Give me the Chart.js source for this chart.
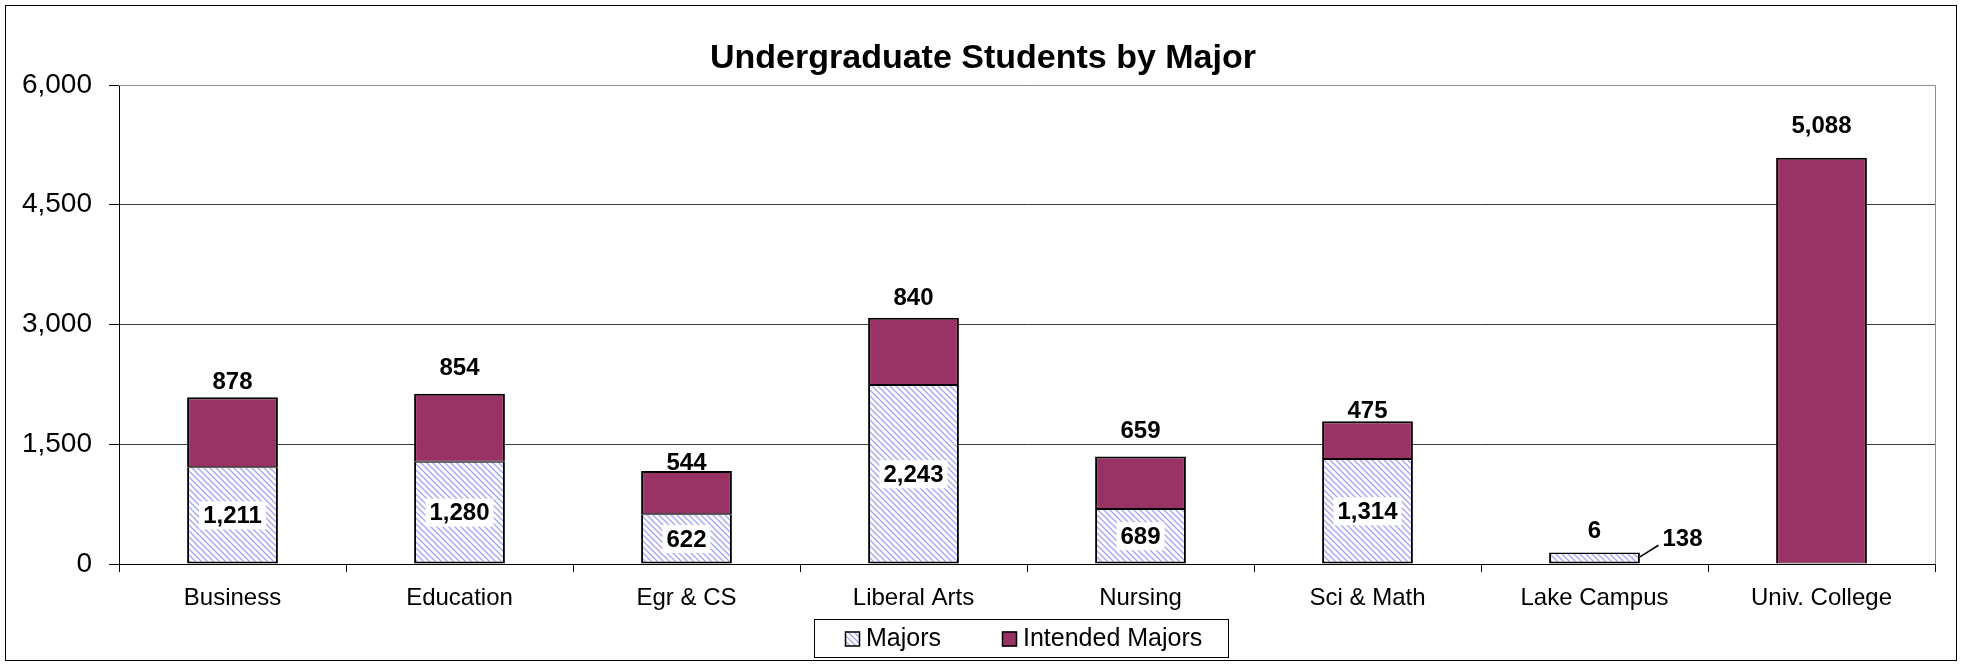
<!DOCTYPE html>
<html>
<head>
<meta charset="utf-8">
<script src="https://cdn.jsdelivr.net/npm/chart.js@4/dist/chart.umd.min.js"></script>
<style>
html,body{margin:0;padding:0;background:#fff;}
#wrap{width:1967px;height:666px;position:relative;}
</style>
</head>
<body>
<div id="wrap"><canvas id="c" width="1967" height="666"></canvas></div>
<script>
const categories = ["Business","Education","Egr & CS","Liberal Arts","Nursing","Sci & Math","Lake Campus","Univ. College"];
const majors = [1211,1280,622,2243,689,1314,138,0];
const intendedMajors = [878,854,544,840,659,475,6,5088];
const yTicks = [0,1500,3000,4500,6000];
const chartTitle = "Undergraduate Students by Major";
const seriesNames = ["Majors","Intended Majors"];

// label styling (distance of top labels above bar top, in px)
const topLabelLift = [16,26,9,20,26,11,22,32];
// shifted label with leader line (Lake Campus majors)
const majorsLabelShift = [null,null,null,null,null,null,{dx:88,dy:-20},null];

const FONT = "'Liberation Sans', Arial, sans-serif";
const PLUM = '#993366';

function makePattern(){
  const p = document.createElement('canvas');
  p.width = 6; p.height = 6;
  const g = p.getContext('2d');
  g.fillStyle = '#ffffff';
  g.fillRect(0,0,6,6);
  g.strokeStyle = '#a3a3f5';
  g.lineWidth = 1.3;
  g.beginPath();
  g.moveTo(-1,-1); g.lineTo(7,7);
  g.moveTo(-1,5); g.lineTo(1,7);
  g.moveTo(5,-1); g.lineTo(7,1);
  g.stroke();
  return document.getElementById('c').getContext('2d').createPattern(p,'repeat');
}
const hatch = makePattern();

const fmt = v => v.toLocaleString('en-US');

const decor = {
  id:'decor',
  beforeDraw(chart){
    const ctx = chart.ctx;
    ctx.save();
    ctx.fillStyle = '#fff';
    ctx.fillRect(0,0,chart.width,chart.height);
    ctx.restore();
  },
  afterDraw(chart){
    const ctx = chart.ctx;
    const a = chart.chartArea;
    ctx.save();
    // plot area border (top & right)
    ctx.strokeStyle = '#8c8c8c';
    ctx.lineWidth = 1;
    ctx.beginPath();
    ctx.moveTo(a.left, a.top + 0.5);
    ctx.lineTo(a.right + 0.5, a.top + 0.5);
    ctx.lineTo(a.right + 0.5, a.bottom);
    ctx.stroke();
    // outer frame
    ctx.strokeStyle = '#000';
    ctx.strokeRect(5.5,5.5,1951,655);
    // title
    ctx.fillStyle = '#000';
    ctx.font = 'bold 34px ' + FONT;
    ctx.textAlign = 'center';
    ctx.textBaseline = 'middle';
    ctx.fillText(chartTitle, 983, 59);
    // legend
    const lx = 814, ly = 619, lw = 414, lh = 38;
    ctx.strokeStyle = '#000';
    ctx.lineWidth = 1;
    ctx.strokeRect(lx+0.5, ly+0.5, lw, lh);
    const items = [
      {x:845, fill:hatch, text:seriesNames[0]},
      {x:1002, fill:PLUM, text:seriesNames[1]}
    ];
    ctx.font = '25px ' + FONT;
    ctx.textAlign = 'left';
    ctx.textBaseline = 'middle';
    const cy = ly + lh/2 + 0.5;
    items.forEach(it=>{
      ctx.fillStyle = it.fill;
      ctx.fillRect(it.x, cy-7, 15, 15);
      ctx.strokeStyle = '#000';
      ctx.lineWidth = 1.5;
      ctx.strokeRect(it.x+0.5, cy-6.5, 14, 14);
      ctx.fillStyle = '#000';
      ctx.fillText(it.text, it.x + 21, cy + 1);
    });
    ctx.restore();
  },
  afterDatasetsDraw(chart){
    const ctx = chart.ctx;
    ctx.save();
    ctx.font = 'bold 24px ' + FONT;
    ctx.textAlign = 'center';
    ctx.textBaseline = 'middle';
    // majors labels
    const m0 = chart.getDatasetMeta(0);
    m0.data.forEach((el,i)=>{
      const v = majors[i];
      if(!v) return;
      let x = el.x, y = (el.y + el.base)/2;
      const sh = majorsLabelShift[i];
      if(sh){
        const bx = el.x + el.width/2, by = el.y;
        x += sh.dx; y += sh.dy;
        ctx.strokeStyle = '#000';
        ctx.lineWidth = 1.5;
        ctx.beginPath();
        ctx.moveTo(bx, by + 4);
        ctx.lineTo(x - 24, y + 7);
        ctx.stroke();
        ctx.fillStyle = '#000';
        ctx.fillText(fmt(v), x, y + 1);
        return;
      }
      const t = fmt(v);
      const w = ctx.measureText(t).width;
      ctx.fillStyle = '#fff';
      ctx.fillRect(x - w/2 - 4, y - 14, w + 8, 28);
      ctx.fillStyle = '#000';
      ctx.fillText(t, x, y + 1);
    });
    const m1 = chart.getDatasetMeta(1);
    m1.data.forEach((el,i)=>{
      const v = intendedMajors[i];
      ctx.fillStyle = '#000';
      ctx.fillText(fmt(v), el.x, el.y - topLabelLift[i] + 1);
    });
    ctx.restore();
  }
};

new Chart(document.getElementById('c'), {
  type:'bar',
  data:{
    labels:categories,
    datasets:[
      {label:seriesNames[0], data:majors, backgroundColor:hatch, borderColor:'#000',
       borderWidth:{top:1,left:2,right:2,bottom:2}, borderSkipped:false},
      {label:seriesNames[1], data:intendedMajors, backgroundColor:PLUM, borderColor:'#000',
       borderWidth:{top:2,left:2,right:2,bottom:1}, borderSkipped:false}
    ]
  },
  options:{
    responsive:false,
    animation:false,
    devicePixelRatio:1,
    layout:{padding:{left:0,right:32,top:85,bottom:0}},
    datasets:{bar:{categoryPercentage:1, barPercentage:0.4}},
    plugins:{legend:{display:false}, title:{display:false}, tooltip:{enabled:false}},
    scales:{
      x:{
        stacked:true,
        grid:{display:true, drawOnChartArea:false, drawTicks:true, tickLength:8, offset:true, tickColor:'#000', tickWidth:1},
        border:{display:true, color:'#000', width:1},
        ticks:{font:{family:FONT, size:24}, color:'#000', padding:12, maxRotation:0, autoSkip:false},
        afterFit(s){ s.height = 102; }
      },
      y:{
        stacked:true,
        min:0, max:6000,
        afterBuildTicks(s){ s.ticks = yTicks.map(v=>({value:v})); },
        grid:{color:(c)=> (c.tick && c.tick.value===6000) ? '#8c8c8c' : '#3a3a3a', lineWidth:1, tickLength:10, tickColor:'#000', tickWidth:1},
        border:{display:true, color:'#000', width:1},
        ticks:{font:{family:FONT, size:28}, color:'#000', padding:17, callback:(v)=>fmt(v)},
        afterFit(s){ s.width = 119; }
      }
    }
  },
  plugins:[decor]
});
</script>
</body>
</html>
